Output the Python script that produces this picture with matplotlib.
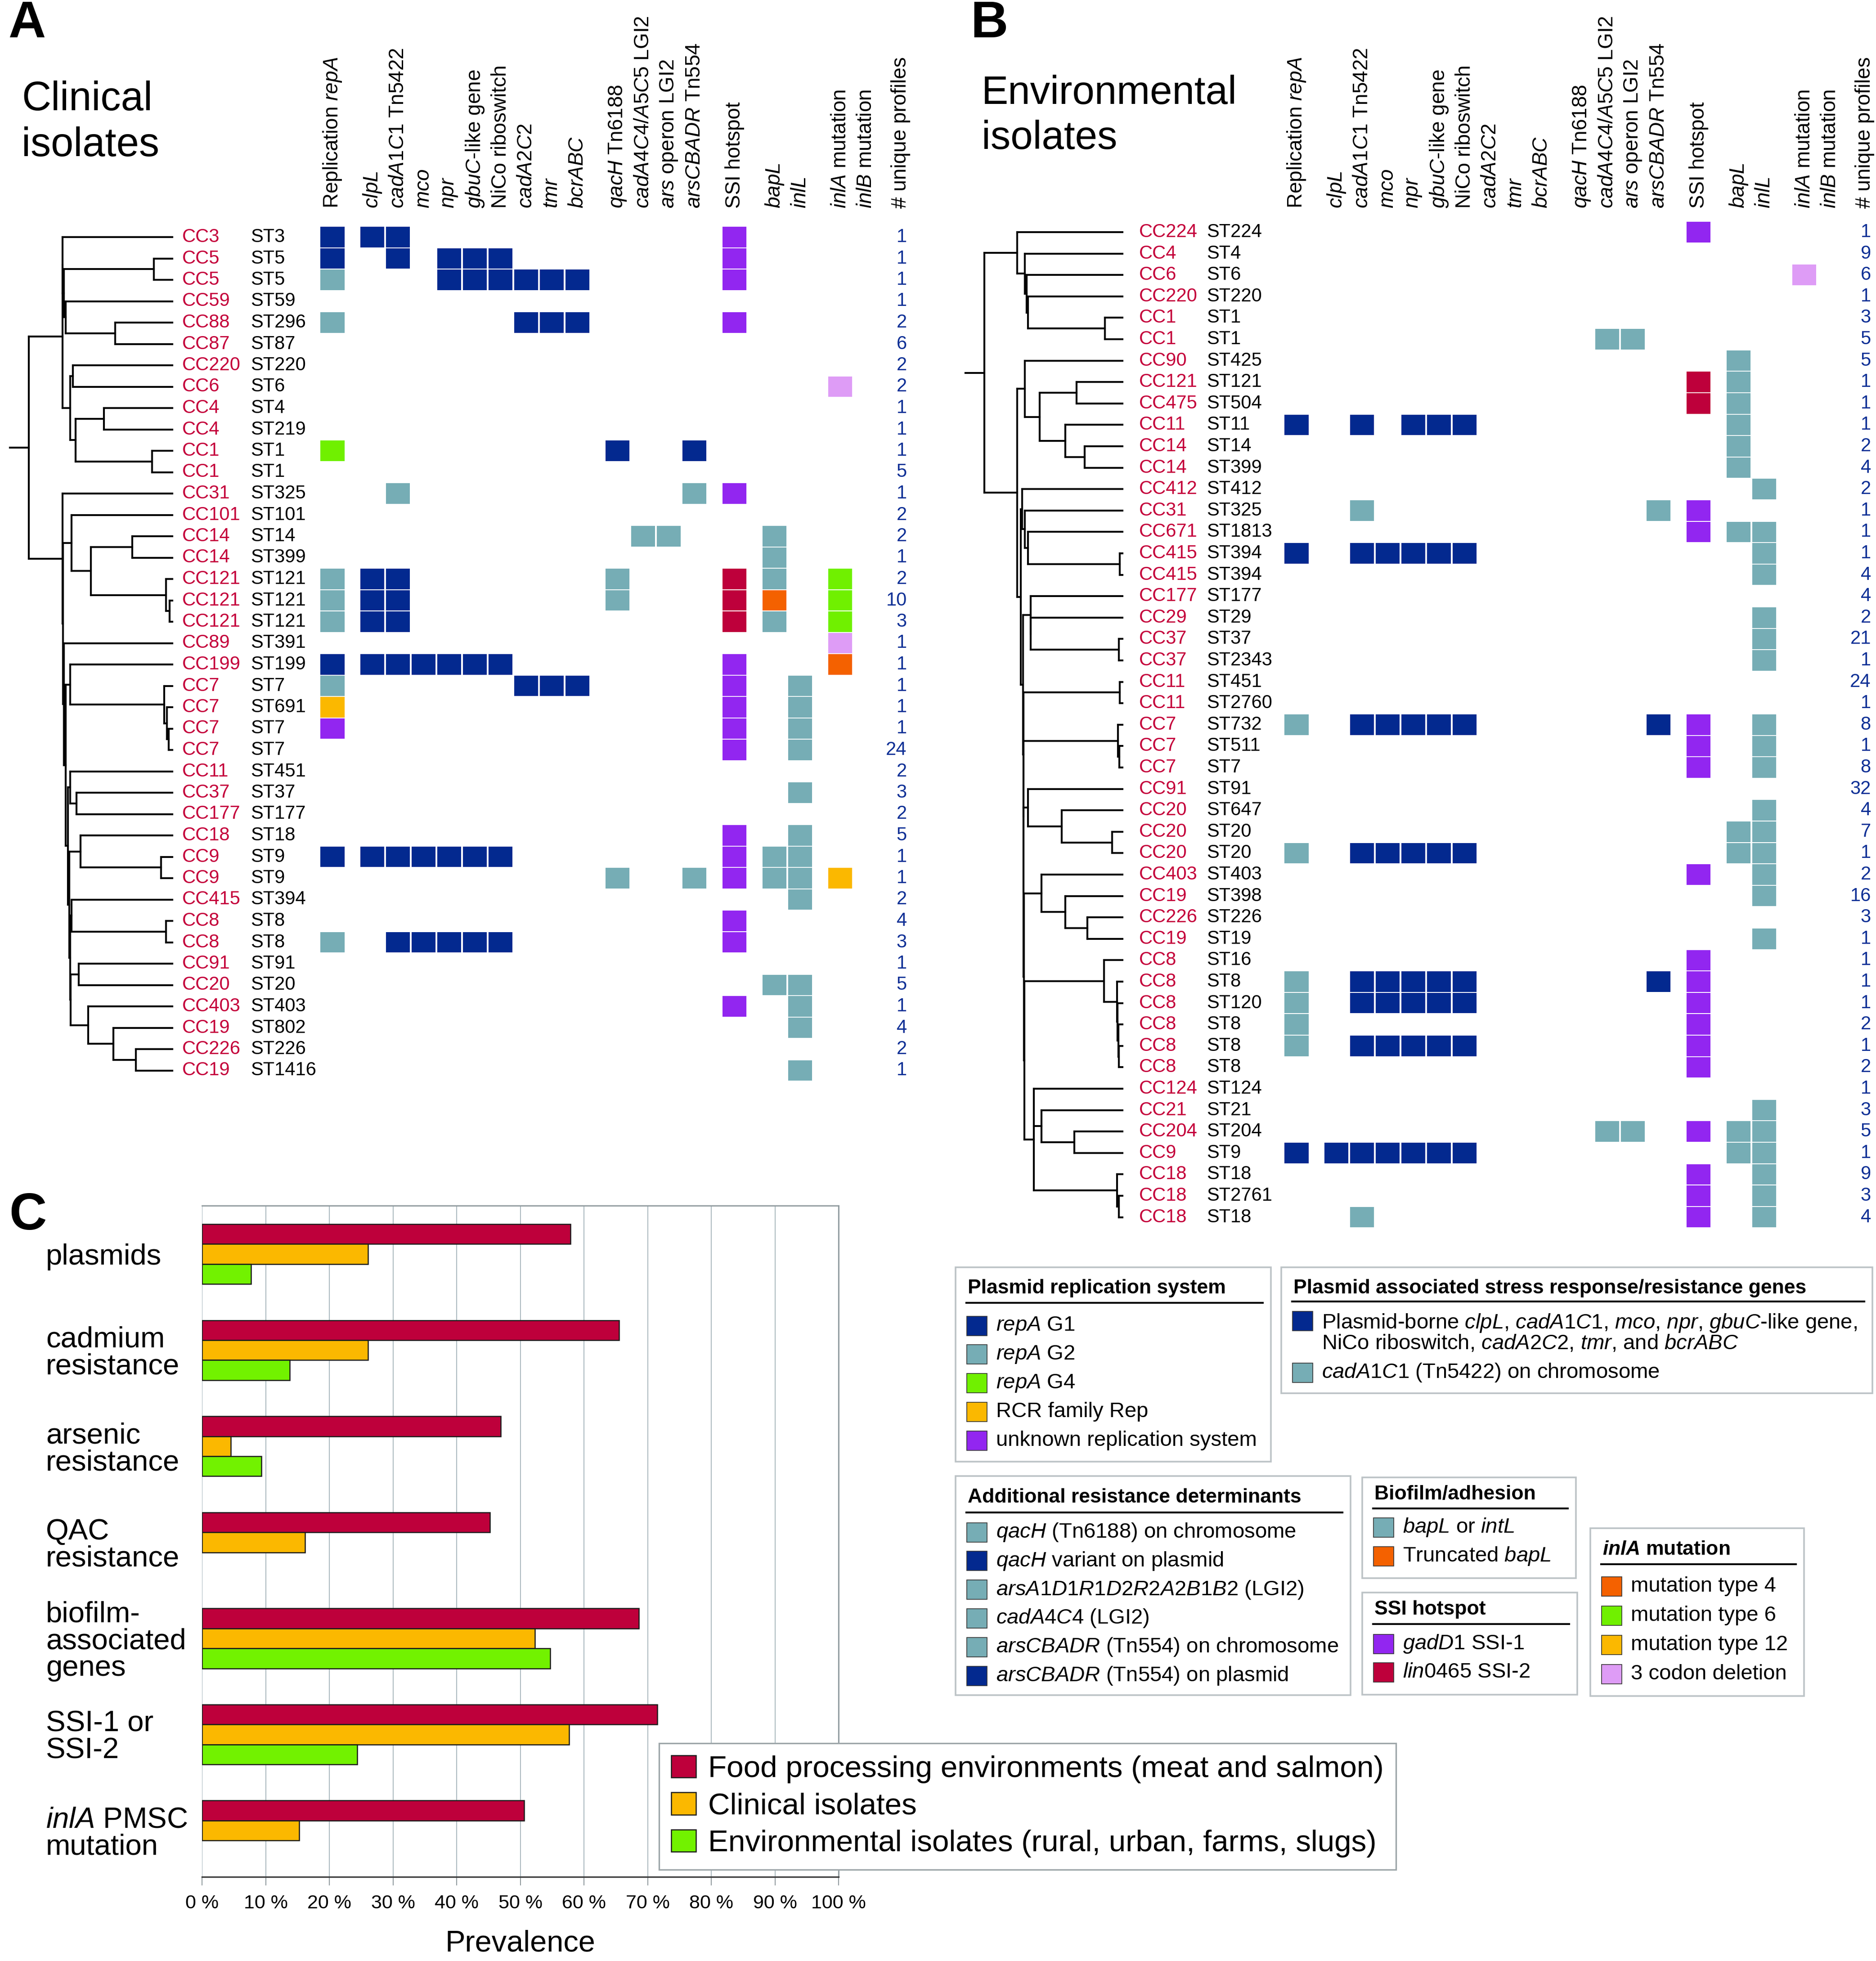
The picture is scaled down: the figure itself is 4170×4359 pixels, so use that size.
import matplotlib
matplotlib.use('Agg')
import matplotlib.pyplot as plt
from matplotlib.patches import Rectangle, Patch

plt.rcParams['font.family'] = ['Liberation Sans', 'DejaVu Sans']
plt.rcParams['mathtext.fontset'] = 'custom'
plt.rcParams['mathtext.rm'] = 'Liberation Sans'
plt.rcParams['mathtext.it'] = 'Liberation Sans:italic'
plt.rcParams['mathtext.bf'] = 'Liberation Sans:bold'
plt.rcParams['mathtext.bfit'] = 'Liberation Sans:italic:bold'

# colour codes used in the profile matrices
palette = {'B': '#03298F', 'T': '#76ADB5', 'G': '#70F000', 'Y': '#FBB800',
           'P': '#9226F0', 'R': '#BE003B', 'O': '#F46100', 'K': '#DE9CF6'}
cc_red = '#C4003A'
count_blue = '#0E2F95'

headers = ['Replication $\\it{repA}$', '$\\it{clpL}$', '$\\it{cadA1C1}$ Tn$\\it{5422}$', '$\\it{mco}$',
           '$\\it{npr}$', '$\\it{gbuC}$-like gene', 'NiCo riboswitch', '$\\it{cadA2C2}$', '$\\it{tmr}$',
           '$\\it{bcrABC}$', '$\\it{qacH}$ Tn$\\it{6188}$', '$\\it{cadA4C4/A5C5}$ LGI2',
           '$\\it{ars}$ operon LGI2', '$\\it{arsCBADR}$ Tn$\\it{554}$', 'SSI hotspot', '$\\it{bapL}$',
           '$\\it{inlL}$', '$\\it{inlA}$ mutation', '$\\it{inlB}$ mutation']
count_header = '# unique profiles'
groups = [1, 9, 4, 1, 2, 2]

# ---- panel A: clinical isolates
a_cc = ['CC3', 'CC5', 'CC5', 'CC59', 'CC88', 'CC87', 'CC220', 'CC6', 'CC4', 'CC4', 'CC1', 'CC1',
        'CC31', 'CC101', 'CC14', 'CC14', 'CC121', 'CC121', 'CC121', 'CC89', 'CC199', 'CC7', 'CC7',
        'CC7', 'CC7', 'CC11', 'CC37', 'CC177', 'CC18', 'CC9', 'CC9', 'CC415', 'CC8', 'CC8', 'CC91',
        'CC20', 'CC403', 'CC19', 'CC226', 'CC19']
a_st = ['ST3', 'ST5', 'ST5', 'ST59', 'ST296', 'ST87', 'ST220', 'ST6', 'ST4', 'ST219', 'ST1', 'ST1',
        'ST325', 'ST101', 'ST14', 'ST399', 'ST121', 'ST121', 'ST121', 'ST391', 'ST199', 'ST7', 'ST691',
        'ST7', 'ST7', 'ST451', 'ST37', 'ST177', 'ST18', 'ST9', 'ST9', 'ST394', 'ST8', 'ST8', 'ST91',
        'ST20', 'ST403', 'ST802', 'ST226', 'ST1416']
a_cells = [
    "B|BB.......|....|P|..|..",
    "B|.B.BBB...|....|P|..|..",
    "T|...BBBBBB|....|P|..|..",
    ".|.........|....|.|..|..",
    "T|......BBB|....|P|..|..",
    ".|.........|....|.|..|..",
    ".|.........|....|.|..|..",
    ".|.........|....|.|..|K.",
    ".|.........|....|.|..|..",
    ".|.........|....|.|..|..",
    "G|.........|B..B|.|..|..",
    ".|.........|....|.|..|..",
    ".|.T.......|...T|P|..|..",
    ".|.........|....|.|..|..",
    ".|.........|.TT.|.|T.|..",
    ".|.........|....|.|T.|..",
    "T|BB.......|T...|R|T.|G.",
    "T|BB.......|T...|R|O.|G.",
    "T|BB.......|....|R|T.|G.",
    ".|.........|....|.|..|K.",
    "B|BBBBBB...|....|P|..|O.",
    "T|......BBB|....|P|.T|..",
    "Y|.........|....|P|.T|..",
    "P|.........|....|P|.T|..",
    ".|.........|....|P|.T|..",
    ".|.........|....|.|..|..",
    ".|.........|....|.|.T|..",
    ".|.........|....|.|..|..",
    ".|.........|....|P|.T|..",
    "B|BBBBBB...|....|P|TT|..",
    ".|.........|T..T|P|TT|Y.",
    ".|.........|....|.|.T|..",
    ".|.........|....|P|..|..",
    "T|.BBBBB...|....|P|..|..",
    ".|.........|....|.|..|..",
    ".|.........|....|.|TT|..",
    ".|.........|....|P|.T|..",
    ".|.........|....|.|.T|..",
    ".|.........|....|.|..|..",
    ".|.........|....|.|.T|..",
]
a_counts = [1, 1, 1, 1, 2, 6, 2, 2, 1, 1, 1, 5, 1, 2, 2, 1, 2, 10, 3, 1, 1, 1, 1, 1, 24, 2, 3, 2, 5,
            1, 1, 2, 4, 3, 1, 5, 1, 4, 2, 1]
# tree: (node depth, children...), leaves are row numbers; depth 0 = root, 100 = tips
a_tree = (0,
          (23.4,
           (23.4, 0, (24.3, (86.6, 1, 2), (25.5, 3, (59.8, 4, 5)))),
           (28.7, (30.5, 6, 7), (32.4, (52.0, 8, 9), (85.4, 10, 11)))),
          (23.4, 12,
           (23.6, (29.6, 13, (43.0, (71.7, 14, 15), (95.0, 16, (97.5, 17, 18)))),
            (24.3, 19,
             (25.5, (28.7, 20, (93.8, 21, (95.6, 22, (96.9, 23, 24)))),
              (27.0, (28.7, 25, (33.0, 26, 27)),
               (28.0, (35.8, 28, (91.6, 29, 30)),
                (28.7, (29.6, 31, (95.0, 32, 33)),
                 (28.9, (34.6, 34, 35), (41.1, 36, (58.6, 37, (74.1, 38, 39))))))))))))

# ---- panel B: environmental isolates
b_cc = ['CC224', 'CC4', 'CC6', 'CC220', 'CC1', 'CC1', 'CC90', 'CC121', 'CC475', 'CC11', 'CC14',
        'CC14', 'CC412', 'CC31', 'CC671', 'CC415', 'CC415', 'CC177', 'CC29', 'CC37', 'CC37', 'CC11',
        'CC11', 'CC7', 'CC7', 'CC7', 'CC91', 'CC20', 'CC20', 'CC20', 'CC403', 'CC19', 'CC226', 'CC19',
        'CC8', 'CC8', 'CC8', 'CC8', 'CC8', 'CC8', 'CC124', 'CC21', 'CC204', 'CC9', 'CC18', 'CC18', 'CC18']
b_st = ['ST224', 'ST4', 'ST6', 'ST220', 'ST1', 'ST1', 'ST425', 'ST121', 'ST504', 'ST11', 'ST14',
        'ST399', 'ST412', 'ST325', 'ST1813', 'ST394', 'ST394', 'ST177', 'ST29', 'ST37', 'ST2343',
        'ST451', 'ST2760', 'ST732', 'ST511', 'ST7', 'ST91', 'ST647', 'ST20', 'ST20', 'ST403', 'ST398',
        'ST226', 'ST19', 'ST16', 'ST8', 'ST120', 'ST8', 'ST8', 'ST8', 'ST124', 'ST21', 'ST204', 'ST9',
        'ST18', 'ST2761', 'ST18']
b_cells = [
    ".|.........|....|P|..|..",
    ".|.........|....|.|..|..",
    ".|.........|....|.|..|K.",
    ".|.........|....|.|..|..",
    ".|.........|....|.|..|..",
    ".|.........|.TT.|.|..|..",
    ".|.........|....|.|T.|..",
    ".|.........|....|R|T.|..",
    ".|.........|....|R|T.|..",
    "B|.B.BBB...|....|.|T.|..",
    ".|.........|....|.|T.|..",
    ".|.........|....|.|T.|..",
    ".|.........|....|.|.T|..",
    ".|.T.......|...T|P|..|..",
    ".|.........|....|P|TT|..",
    "B|.BBBBB...|....|.|.T|..",
    ".|.........|....|.|.T|..",
    ".|.........|....|.|..|..",
    ".|.........|....|.|.T|..",
    ".|.........|....|.|.T|..",
    ".|.........|....|.|.T|..",
    ".|.........|....|.|..|..",
    ".|.........|....|.|..|..",
    "T|.BBBBB...|...B|P|.T|..",
    ".|.........|....|P|.T|..",
    ".|.........|....|P|.T|..",
    ".|.........|....|.|..|..",
    ".|.........|....|.|.T|..",
    ".|.........|....|.|TT|..",
    "T|.BBBBB...|....|.|TT|..",
    ".|.........|....|P|.T|..",
    ".|.........|....|.|.T|..",
    ".|.........|....|.|..|..",
    ".|.........|....|.|.T|..",
    ".|.........|....|P|..|..",
    "T|.BBBBB...|...B|P|..|..",
    "T|.BBBBB...|....|P|..|..",
    "T|.........|....|P|..|..",
    "T|.BBBBB...|....|P|..|..",
    ".|.........|....|P|..|..",
    ".|.........|....|.|..|..",
    ".|.........|....|.|.T|..",
    ".|.........|.TT.|P|TT|..",
    "B|BBBBBB...|....|.|TT|..",
    ".|.........|....|P|.T|..",
    ".|.........|....|P|.T|..",
    ".|.T.......|....|P|.T|..",
]
b_counts = [1, 9, 6, 1, 3, 5, 5, 1, 1, 1, 2, 4, 2, 1, 1, 1, 4, 4, 2, 21, 1, 24, 1, 8, 1, 8, 32, 4, 7,
            1, 2, 16, 3, 1, 1, 1, 1, 2, 1, 2, 1, 3, 5, 1, 9, 3, 4]
b_tree = (0,
          (23.8, 0, (29.3, 1, (30.6, 2, (31.6, 3, (87.4, 4, 5))))),
          (23.8, (29.4, 6, (40.1, (66.8, 7, 8), (58.6, 9, (72.8, 10, 11)))),
           (26.4, (27.2, 12, (29.4, 13, (31.5, 14, (98.0, 15, 16)))),
            (28.0, (33.7, 17, (33.7, 18, (97.5, 19, 20))),
             (28.2, (98.0, 21, 22),
              (28.3, (96.8, 23, (97.8, 24, 25)),
               (28.5, (31.5, 26, (56.0, 27, (92.6, 28, 29))),
                (28.7, (41.4, 30, (58.6, 31, (74.5, 32, 33))),
                 (29.0, (86.6, 34, (96.0, 35, (96.5, 36, (97.0, 37, (97.5, 38, 39))))),
                  (35.8, 40, (41.4, 41, (65.1, 42, 43)), (96.0, 44, (97.5, 45, 46))))))))))))

# ---- panel C: prevalence (%)
c_categories = ['plasmids', 'cadmium\nresistance', 'arsenic\nresistance', 'QAC\nresistance',
                'biofilm-\nassociated\ngenes', 'SSI-1 or\nSSI-2', '$\\it{inlA}$ PMSC\nmutation']
c_food = [57.9, 65.5, 46.9, 45.2, 68.6, 71.5, 50.6]
c_clinical = [26.1, 26.1, 4.5, 16.2, 52.3, 57.7, 15.3]
c_environment = [7.7, 13.8, 9.3, None, 54.7, 24.4, None]
c_series = ['Food processing environments (meat and salmon)', 'Clinical isolates',
            'Environmental isolates (rural, urban, farms, slugs)']
c_colors = ['#BE003B', '#FBB800', '#72F200']

# legends of panels A/B
leg_rep = [('B', '$\\it{repA}$ G1'), ('T', '$\\it{repA}$ G2'), ('G', '$\\it{repA}$ G4'),
           ('Y', 'RCR family Rep'), ('P', 'unknown replication system')]
leg_stress = [('B', 'Plasmid-borne $\\it{clpL}$, $\\it{cadA1C1}$, $\\it{mco}$, $\\it{npr}$, $\\it{gbuC}$-like gene,\n'
                    'NiCo riboswitch, $\\it{cadA2C2}$, $\\it{tmr}$, and $\\it{bcrABC}$'),
              ('T', '$\\it{cadA1C1}$ (Tn$\\it{5422}$) on chromosome')]
leg_add = [('T', '$\\it{qacH}$ (Tn$\\it{6188}$) on chromosome'), ('B', '$\\it{qacH}$ variant on plasmid'),
           ('T', '$\\it{arsA1D1R1D2R2A2B1B2}$ (LGI2)'), ('T', '$\\it{cadA4C4}$ (LGI2)'),
           ('T', '$\\it{arsCBADR}$ (Tn$\\it{554}$) on chromosome'),
           ('B', '$\\it{arsCBADR}$ (Tn$\\it{554}$) on plasmid')]
leg_bio = [('T', '$\\it{bapL}$ or $\\it{intL}$'), ('O', 'Truncated $\\it{bapL}$')]
leg_ssi = [('P', '$\\it{gadD1}$ SSI-1'), ('R', '$\\it{lin0465}$ SSI-2')]
leg_inla = [('O', 'mutation type 4'), ('G', 'mutation type 6'), ('Y', 'mutation type 12'),
            ('K', '3 codon deletion')]

W, H = 4170, 4359
fig = plt.figure(figsize=(W / 100, H / 100), dpi=100)


def px_axes(l, t, r, b):
    return fig.add_axes([l / W, 1 - b / H, (r - l) / W, (b - t) / H])


ax0 = px_axes(0, 0, W, H)
ax0.set_xlim(0, W)
ax0.set_ylim(H, 0)
ax0.axis('off')

SLOT = 57
slots = []
x = 0.0
for g in groups:
    for k in range(g):
        slots.append(x)
        x += 1
    x += 0.56
count_x = 22.4


def draw_tree(ax, node, tip=100):
    depth = node[0]
    ys = []
    for ch in node[1:]:
        if isinstance(ch, int):
            y = ch
            ax.plot([depth, tip], [y, y], color='black', lw=3, solid_capstyle='projecting')
        else:
            y = draw_tree(ax, ch, tip)
            ax.plot([depth, ch[0]], [y, y], color='black', lw=3, solid_capstyle='projecting')
        ys.append(y)
    ax.plot([depth, depth], [min(ys), max(ys)], color='black', lw=3, solid_capstyle='projecting')
    return (ys[0] + ys[-1]) / 2


def draw_panel(tree, cc, st, cells, counts, tree_l, root_px, tip_px, slot0_px, heat_r,
               row0_px, pitch, cc_px, st_px, top_px=440, bot_px=2750):
    unit = (tip_px - root_px) / 100
    ylim = ((bot_px - row0_px) / pitch, (top_px - row0_px) / pitch)
    heat_l = cc_px - 20
    ax_t = px_axes(tree_l, top_px, heat_l, bot_px)
    ax_t.set_xlim((tree_l - root_px) / unit, (heat_l - root_px) / unit)
    ax_t.set_ylim(*ylim)
    ax_t.axis('off')
    ry = draw_tree(ax_t, tree)
    ax_t.plot([(tree_l + 4 - root_px) / unit, 0], [ry, ry], color='black', lw=3,
              solid_capstyle='projecting')

    ax_h = px_axes(heat_l, top_px, heat_r, bot_px)
    ax_h.set_xlim((heat_l - slot0_px) / SLOT, (heat_r - slot0_px) / SLOT)
    ax_h.set_ylim(*ylim)
    ax_h.axis('off')
    for r, row in enumerate(cells):
        codes = row.replace('|', '')
        for c, code in enumerate(codes):
            if code != '.':
                ax_h.add_patch(Rectangle((slots[c] - 0.465, r - 0.478), 0.93, 0.956,
                                         facecolor=palette[code], lw=0))
        ax_h.text((cc_px - slot0_px) / SLOT, r, cc[r], color=cc_red, fontsize=30,
                  ha='left', va='center')
        ax_h.text((st_px - slot0_px) / SLOT, r, st[r], color='black', fontsize=30,
                  ha='left', va='center')
        ax_h.text(count_x, r, str(counts[r]), color=count_blue, fontsize=30,
                  ha='right', va='center')
    hy = (463 - row0_px) / pitch
    for c, h in enumerate(headers):
        ax_h.text(slots[c], hy, h, rotation=90, ha='center', va='bottom', fontsize=33)
    ax_h.text(count_x - 0.25, hy, count_header, rotation=90, ha='center', va='bottom', fontsize=33)


draw_panel(a_tree, a_cc, a_st, a_cells, a_counts, tree_l=18, root_px=64, tip_px=385,
           slot0_px=739, heat_r=2080, row0_px=527, pitch=47.5, cc_px=405, st_px=557)
draw_panel(b_tree, b_cc, b_st, b_cells, b_counts, tree_l=2142, root_px=2188, tip_px=2495,
           slot0_px=2882, heat_r=4170, row0_px=516, pitch=47.6, cc_px=2532, st_px=2682)

# panel letters and titles
ax0.text(18, 83, 'A', fontsize=83, fontweight='bold', va='baseline')
ax0.text(2157, 83, 'B', fontsize=83, fontweight='bold', va='baseline')
ax0.text(20, 2733, 'C', fontsize=83, fontweight='bold', va='baseline')
ax0.text(48, 347, 'Clinical\nisolates', fontsize=65, va='baseline', linespacing=1.25)
ax0.text(2182, 331, 'Environmental\nisolates', fontsize=64, va='baseline', linespacing=1.25)


def legend_box(box, title, title_y, line_y, entries, ys):
    x0, y0, x1, y1 = box
    ax0.add_patch(Rectangle((x0, y0), x1 - x0, y1 - y0, fill=False, ec='#BCC3C6', lw=2.6))
    ax0.text(x0 + 27, title_y, title, fontsize=32, fontweight='bold', va='center')
    ax0.plot([x0 + 24, x1 - 18], [line_y, line_y], color='black', lw=3)
    for (code, label), y in zip(entries, ys):
        nl = label.count('\n')
        ax0.add_patch(Rectangle((x0 + 25, y - 21.5 - 27 * nl), 45, 43, facecolor=palette[code],
                                ec='#333333', lw=1.2))
        ax0.text(x0 + 90, y, label, fontsize=34, va='center', linespacing=1.0)


legend_box((2124, 2817, 2825, 3249), 'Plasmid replication system', 2863, 2896, leg_rep,
           [2947 + 63.8 * i for i in range(len(leg_rep))])
legend_box((2848, 2817, 4162, 3097), 'Plasmid associated stress response/resistance genes', 2863,
           2893, leg_stress, [2963, 3051])
legend_box((2124, 3281, 3002, 3768), 'Additional resistance determinants', 3328, 3362, leg_add,
           [3406 + 63.8 * i for i in range(len(leg_add))])
legend_box((3028, 3284, 3503, 3508), 'Biofilm/adhesion', 3321, 3353, leg_bio, [3395, 3459])
legend_box((3028, 3540, 3506, 3767), 'SSI hotspot', 3578, 3610, leg_ssi, [3654, 3717])
legend_box((3535, 3397, 4010, 3770), '$\\mathbfit{inlA}$ mutation', 3445, 3477, leg_inla,
           [3526 + 65 * i for i in range(len(leg_inla))])

# ---- panel C bar chart
ax_c = px_axes(449, 2680, 1864, 4172)
bh = 0.2084
for k, vals in enumerate([c_food, c_clinical, c_environment]):
    for i, v in enumerate(vals):
        if v is None:
            continue
        ax_c.barh(i + k * bh, v, height=bh, align='edge', color=c_colors[k],
                  edgecolor='#1a1a1a', lw=1.8, zorder=3)
ax_c.set_xlim(0, 100)
ax_c.set_ylim(6.796, -0.192)
ax_c.set_xticks(range(0, 101, 10))
ax_c.set_xticklabels([f'{v} %' for v in range(0, 101, 10)], fontsize=31)
ax_c.tick_params(axis='x', length=14, width=1.4, color='#8D989C', pad=14)
ax_c.grid(axis='x', color='#A9B8BE', lw=1.4, zorder=0)
ax_c.set_axisbelow(True)
ax_c.set_yticks([i + 1.5 * bh for i in range(len(c_categories))])
ax_c.set_yticklabels(c_categories, fontsize=47, linespacing=1.0)
ax_c.tick_params(axis='y', length=0, pad=250)
for lbl in ax_c.get_yticklabels():
    lbl.set_horizontalalignment('left')
for s in ['top', 'right']:
    ax_c.spines[s].set_color('#8D989C')
    ax_c.spines[s].set_linewidth(2)
ax_c.spines['left'].set_visible(False)
ax_c.spines['bottom'].set_color('#3c3c3c')
ax_c.spines['bottom'].set_linewidth(2.4)
ax_c.set_xlabel('Prevalence', fontsize=48, labelpad=28)

handles = [Patch(facecolor=c, edgecolor='#1a1a1a', lw=1.8) for c in c_colors]
leg = ax_c.legend(handles, c_series, loc='upper left', bbox_to_anchor=(1465 / W, 1 - 3875 / H),
                  bbox_transform=fig.transFigure, fontsize=48.5, handlelength=0.82, handleheight=0.75,
                  handletextpad=0.4, borderpad=0.4, labelspacing=0.3, borderaxespad=0,
                  fancybox=False, framealpha=1)
leg.get_frame().set_edgecolor('#9DA6A9')
leg.get_frame().set_linewidth(2.4)

fig.savefig('out.png', dpi=100)
